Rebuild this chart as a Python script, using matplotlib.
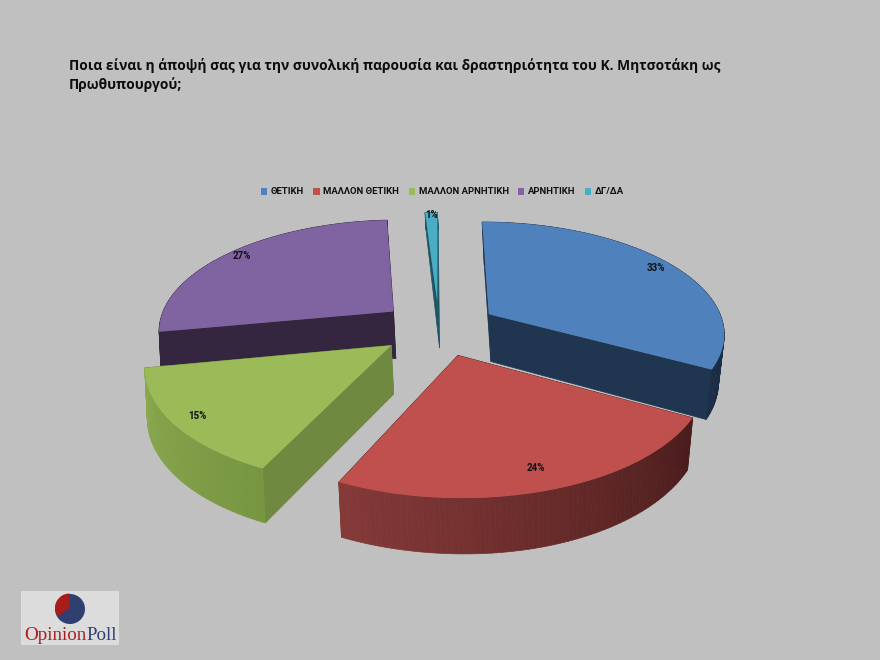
import numpy as np
import matplotlib
matplotlib.use('Agg')
import matplotlib.pyplot as plt
from matplotlib.patches import Patch, Polygon, Rectangle, Wedge, Circle
from matplotlib.colors import to_rgb

title = ('Ποια είναι η άποψή σας για την συνολική παρουσία και δραστηριότητα του Κ. Μητσοτάκη ως\n'
         'Πρωθυπουργού;')
labels = ['ΘΕΤΙΚΗ', 'ΜΑΛΛΟΝ ΘΕΤΙΚΗ', 'ΜΑΛΛΟΝ ΑΡΝΗΤΙΚΗ', 'ΑΡΝΗΤΙΚΗ', 'ΔΓ/ΔΑ']
values = [33, 24, 15, 27, 1]
logo_shares = [35, 65]

top_colors = ['#4f81bd', '#c0504d', '#9bbb59', '#8064a2', '#4bacc6']
cut_colors = ['#1f3550', '#4f1f1f', '#6f8a40', '#35263f', '#1d5663']
rim_start = ['#1f3550', '#4a1c1c', '#779640', '#35263f', '#1d5663']
rim_end = ['#1b2d45', '#853a38', '#8ba94f', '#35263f', '#1d5663']
rim_taper = [0, 0, 0, 0.3, 0.6]  # purple and cyan sides get thinner towards the edge
label_r = [0.92, 0.86, 0.9, 0.93, 0.96]

CX, CY = 439, 328
WIDTH, HEIGHT, PERSP = 236, 110.7, 0.157
EXPLODE = 0.25
DEPTH = 48


def project(x, y, drop=0.0):
    s = 1 / (1 + PERSP * y)
    sx = CX + WIDTH * x * s
    sy = CY - HEIGHT * y * s
    if np.any(drop):
        d = drop * s ** 0.7
        # sides lean a little to the right, and inwards past the right edge
        sx = sx + d * (0.05 - 0.17 * np.clip(sx - 480, 0, None) / 243)
        sy = sy + d
    return sx, sy


def blend(c0, c1, t):
    c0, c1 = np.array(to_rgb(c0)), np.array(to_rgb(c1))
    return tuple(c0 + (c1 - c0) * t)


fig = plt.figure(figsize=(8.8, 6.6), dpi=100, facecolor='#c0c0c0')
ax = fig.add_axes([0, 0, 1, 1])
ax.set_xlim(0, 880)
ax.set_ylim(660, 0)
ax.axis('off')

edges = np.cumsum([0] + values) / sum(values) * 2 * np.pi
mids = (edges[:-1] + edges[1:]) / 2

# far slices first, red goes on top of everything
for i in [4, 3, 0, 2, 1]:
    ang = np.linspace(edges[i], edges[i + 1], 80)
    ox, oy = EXPLODE * np.sin(mids[i]), EXPLODE * np.cos(mids[i])
    xs, ys = ox + np.sin(ang), oy + np.cos(ang)
    taper = rim_taper[i]

    def drop_at(r):
        return DEPTH * (1 - taper * r)

    # two cut faces from the apex down
    for a in [edges[i], edges[i + 1]]:
        ex, ey = ox + np.sin(a), oy + np.cos(a)
        p1 = project(ox, oy)
        p2 = project(ex, ey)
        p3 = project(ex, ey, drop_at(1))
        p4 = project(ox, oy, drop_at(0))
        ax.add_patch(Polygon([p1, p2, p3, p4], closed=True, fc=cut_colors[i], ec=cut_colors[i], lw=0.5, zorder=2))

    # outer rim, one quad per step so the shade can change along it
    tx, ty = project(xs, ys)
    bx, by = project(xs, ys, np.full_like(xs, drop_at(1)))
    for k in range(len(ang) - 1):
        col = blend(rim_start[i], rim_end[i], k / (len(ang) - 2))
        ax.add_patch(Polygon([(tx[k], ty[k]), (tx[k + 1], ty[k + 1]), (bx[k + 1], by[k + 1]), (bx[k], by[k])],
                             closed=True, fc=col, ec=col, lw=0.5, zorder=2))

    ax_x, ax_y = project(ox, oy)
    ax.add_patch(Polygon(np.column_stack([np.r_[ax_x, tx], np.r_[ax_y, ty]]), closed=True,
                         fc=top_colors[i], ec='none', zorder=2))

    r = label_r[i]
    lx, ly = project(ox + r * np.sin(mids[i]), oy + r * np.cos(mids[i]))
    ax.text(lx, ly, f'{values[i]}%', fontsize=7, fontweight='bold', family='Roboto',
            color='#101010', ha='center', va='center', zorder=5)

ax.text(69, 75, title, fontsize=9.9, fontweight='bold', family='Open Sans', color='#0d0d0d',
        ha='left', va='center', linespacing=1.38)

handles = [Patch(fc=c, ec='none') for c in top_colors]
leg = ax.legend(handles, labels, ncol=5, loc='center', bbox_to_anchor=(442.5 / 880, 1 - 192 / 660),
                frameon=False, prop={'family': 'Roboto', 'weight': 'bold', 'size': 6.8},
                handlelength=0.65, handleheight=0.75, handletextpad=0.4, columnspacing=1.0)
for t in leg.get_texts():
    t.set_color('#101010')

# logo
ax.add_patch(Rectangle((21, 591), 98, 54, fc='#dcdcdc', ec='none', zorder=3))
navy, dark_red = '#2f4070', '#a81c1c'
red_angle = logo_shares[0] / sum(logo_shares) * 360
ax.add_patch(Circle((70, 609), 15, fc=navy, ec='none', zorder=4))
# y axis is flipped, so angles run clockwise on screen
ax.add_patch(Wedge((69.5, 608), 14.5, 270 - red_angle, 270, fc=dark_red, ec='none', zorder=5))
ax.text(24, 635, 'Opinion', fontsize=13.7, family='Liberation Serif', color='#a82020', ha='left', va='center', zorder=5)
ax.text(86, 635, 'Poll', fontsize=13.7, family='Liberation Serif', color=navy, ha='left', va='center', zorder=5)

fig.savefig('out.png', dpi=100, facecolor=fig.get_facecolor())
